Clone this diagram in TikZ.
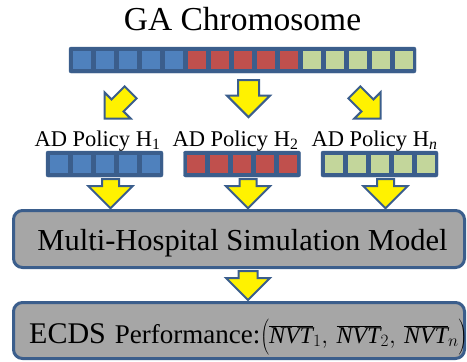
\documentclass[tikz,border=0pt]{standalone}
\usepackage{fontspec}
\setmainfont{Liberation Serif}
\usetikzlibrary{shapes.arrows,calc}

\definecolor{frameblue}{HTML}{3B5E8C}
\definecolor{cellblue}{HTML}{4F81BD}
\definecolor{cellred}{HTML}{C0504D}
\definecolor{cellgreen}{HTML}{C3D69B}
\definecolor{boxgray}{HTML}{A6A6A6}

\tikzset{
  genebar/.style={fill=frameblue, draw=frameblue, rounded corners=2pt, minimum height=26pt, inner sep=0pt},
  gene/.style={fill=#1, minimum width=18pt, minimum height=18.5pt, inner sep=0pt},
  fatarrow/.style={single arrow, draw=frameblue, fill=yellow, line width=2pt,
    single arrow tip angle=90, inner xsep=0pt},
  simbox/.style={draw=frameblue, fill=boxgray, line width=3pt, rounded corners=9pt,
    minimum width=451pt},
}

\begin{document}
\begin{tikzpicture}[x=1pt,y=-1pt]
    \useasboundingbox (0,0) rectangle (467,362);
    \node[anchor=base, font=\fontsize{33.5}{38}\selectfont] (title) at (242.5,30) {GA Chromosome};%标题

    % 整条染色体: 15个基因
    \node[genebar, minimum width=347pt] (chrom) at (242.5,60) {};
    \foreach \c [count=\g from 0] in {cellblue,cellred,cellgreen}
        \foreach \k in {0,...,4}
            \node[gene=\c] (gene\g-\k) at ($(chrom.center)+({23*(5*\g+\k-7)},0)$) {};

    % 三段策略
    \foreach \c/\x [count=\g] in {cellblue/104.5,cellred/242,cellgreen/379.5} {
        \node[genebar, minimum width=117pt] (bar\g) at (\x,164) {};
        \foreach \k in {0,...,4}
            \node[gene=\c] (bar\g-\k) at ($(bar\g.center)+({23*(\k-2)},0)$) {};
    }
    \node[anchor=base, font=\fontsize{22.5}{27}\selectfont] (pol1) at (97.5,146.5) {AD Policy H\textsubscript{1}};
    \node[anchor=base, font=\fontsize{22.5}{27}\selectfont] (pol2) at (235.5,146.5) {AD Policy H\textsubscript{2}};
    \node[anchor=base, font=\fontsize{22.5}{27}\selectfont] (pol3) at (374.5,146.5) {AD Policy H\textsubscript{\textit{n}}};

    % 仿真模型与性能
    \node[simbox, minimum height=57pt] (model) at (239,239) {};
    \node[anchor=base, inner sep=0pt, font=\fontsize{30.5}{36}\selectfont] (modeltxt) at ($(model.center)+(3.5,11)$) {Multi-Hospital Simulation Model};
    \node[simbox, minimum height=56pt] (perf) at (239,330.5) {};
    \node[anchor=base west, inner sep=0pt] (perftxt) at (29,343) {{\fontsize{30}{36}\selectfont ECDS}\hspace{9pt}{\fontsize{27}{32}\selectfont Performance:}\fontsize{24}{28}\selectfont$\left(\rule{0pt}{26pt}\overline{\textit{NVT}}_{1},\,\overline{\textit{NVT}}_{2},\,\overline{\textit{NVT}}_{n}\right)$};

    % 箭头
    \node[fatarrow, inner ysep=7.5pt, single arrow head extend=10pt, minimum height=37pt, rotate=-135, anchor=tip] (split1) at (103.5,119.5) {};
    \node[fatarrow, inner ysep=9.5pt, single arrow head extend=11pt, minimum height=37pt, rotate=-90, anchor=tip] (split2) at (248.5,118.5) {};
    \node[fatarrow, inner ysep=7.5pt, single arrow head extend=10pt, minimum height=37pt, rotate=-45, anchor=tip] (split3) at (381.5,119.5) {};
    \foreach \g in {1,2,3}
        \node[fatarrow, inner ysep=7.5pt, single arrow head extend=13.5pt, minimum height=29pt, rotate=-90, anchor=tail] (push\g) at ($(bar\g.south)+(6,1)$) {};
    \node[fatarrow, inner ysep=8.5pt, single arrow head extend=12.5pt, minimum height=29pt, rotate=-90, anchor=tail] (eval) at ($(model.south)+(9,1)$) {};
\end{tikzpicture}
\end{document}
